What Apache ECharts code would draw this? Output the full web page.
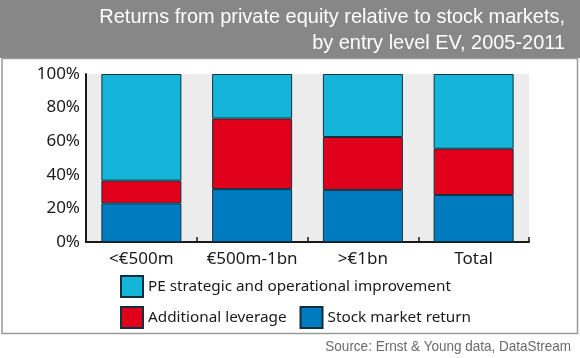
<!DOCTYPE html>
<html>
<head>
<meta charset="utf-8">
<script src="https://cdn.jsdelivr.net/npm/echarts@6/dist/echarts.min.js"></script>
<style>html,body{margin:0;padding:0;background:#fff;}#c{width:580px;height:358px;}</style>
</head>
<body>
<div id="c"></div>
<script>
var categories = ['<€500m', '€500m-1bn', '>€1bn', 'Total'];
var stockMarket = [23, 31.5, 31, 28];
var leverage = [13.5, 42, 31.5, 27.5];
var peImprovement = [63.5, 26.5, 37.5, 44.5];
var yTicks = [0, 20, 40, 60, 80, 100];
var titleLines = ['Returns from private equity relative to stock markets,', 'by entry level EV, 2005-2011'];
var sourceText = 'Source: Ernst & Young data, DataStream';

var chart = echarts.init(document.getElementById('c'));
var bodyFont = "'Noto Sans', sans-serif";
var condFont = "'Liberation Sans', Arial, sans-serif";
var border = { borderColor: '#10303f', borderWidth: 1 };
chart.setOption({
  animation: false,
  graphic: [
    { type: 'rect', z: -10, shape: { x: 0, y: 0, width: 580, height: 58 }, style: { fill: '#878787' } },
    { type: 'rect', z: -10, shape: { x: 2, y: 58.5, width: 575.5, height: 275 }, style: { fill: '#fff', stroke: '#9a9a9a', lineWidth: 1.5 } },
    { type: 'text', x: 565, y: 17.5, scaleX: 0.95, style: { text: titleLines[0], fill: '#fff', font: "21px " + condFont, textAlign: 'right', textVerticalAlign: 'middle' } },
    { type: 'text', x: 565, y: 43.5, scaleX: 0.95, style: { text: titleLines[1], fill: '#fff', font: "21px " + condFont, textAlign: 'right', textVerticalAlign: 'middle' } },
    { type: 'text', x: 571, y: 347, scaleX: 0.9, style: { text: sourceText, fill: '#6a6a6a', font: "15px " + condFont, textAlign: 'right', textVerticalAlign: 'middle' } }
  ],
  legend: [{
    data: ['PE strategic and operational improvement'],
    left: 120, top: 275, itemWidth: 22, itemHeight: 21, itemGap: 13,
    icon: 'rect', padding: 0,
    textStyle: { fontFamily: bodyFont, fontSize: 15.3, color: '#1a1a1a' }
  }, {
    data: ['Additional leverage', 'Stock market return'],
    left: 120, top: 306, itemWidth: 22, itemHeight: 21, itemGap: 13,
    icon: 'rect', padding: 0,
    textStyle: { fontFamily: bodyFont, fontSize: 15.3, color: '#1a1a1a' }
  }],
  grid: { left: 86, right: 51, top: 74, bottom: 116, show: true, backgroundColor: '#ececec', borderWidth: 0 },
  xAxis: {
    type: 'category', data: categories,
    axisLine: { lineStyle: { color: '#1a1a1a', width: 2 } },
    axisTick: { show: true, inside: true, length: 5, lineStyle: { color: '#1a1a1a', width: 1.5 } },
    axisLabel: { interval: 0, fontFamily: bodyFont, fontSize: 17, color: '#1a1a1a', margin: 9 }
  },
  yAxis: {
    type: 'value', min: yTicks[0], max: yTicks[yTicks.length - 1], interval: 20,
    axisLine: { show: true, lineStyle: { color: '#1a1a1a', width: 2 } },
    axisTick: { show: false },
    splitLine: { show: false },
    axisLabel: { fontFamily: bodyFont, fontSize: 17, color: '#1a1a1a', margin: 6, formatter: '{value}%' }
  },
  series: [
    { name: 'Stock market return', type: 'bar', stack: 's', barWidth: 80, data: stockMarket, itemStyle: Object.assign({ color: '#007bbf' }, border) },
    { name: 'Additional leverage', type: 'bar', stack: 's', barWidth: 80, data: leverage, itemStyle: Object.assign({ color: '#e1001c' }, border) },
    { name: 'PE strategic and operational improvement', type: 'bar', stack: 's', barWidth: 80, data: peImprovement, itemStyle: Object.assign({ color: '#14b5d9' }, border) }
  ]
});
</script>
</body>
</html>
